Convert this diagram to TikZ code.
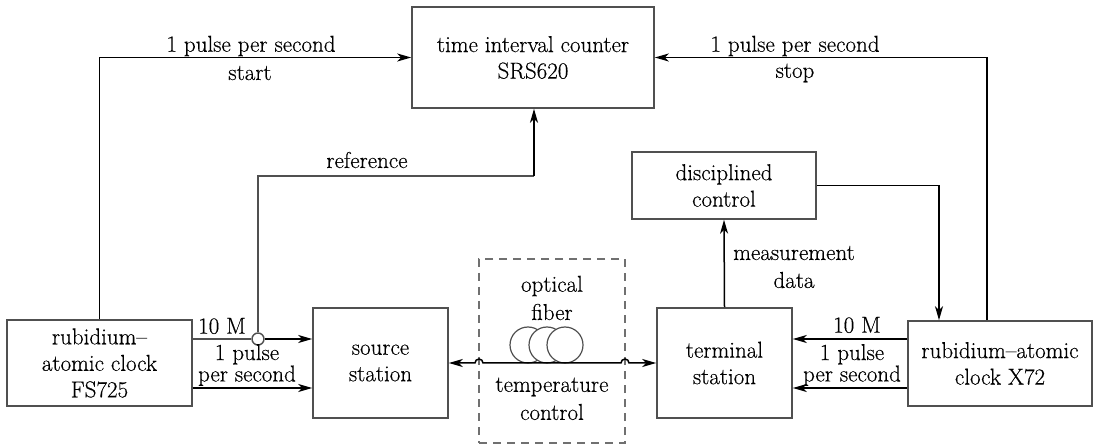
\documentclass[tikz,border=0pt]{standalone}
\usepackage{fontspec}
\setmainfont{Latin Modern Roman}[FakeBold=0.35]
\usetikzlibrary{arrows.meta}
\definecolor{boxgray}{HTML}{505050}
\definecolor{dashgray}{HTML}{707070}
\newcommand\mainsz{\fontsize{23}{26.5}\selectfont}
\newcommand\tightsz{\fontsize{23}{18.5}\selectfont}
\begin{document}
\begin{tikzpicture}[x=1pt,y=-1pt,
  box/.style={draw=boxgray, line width=1.6pt, fill=white, inner sep=0pt, align=center, font=\mainsz},
  lbl/.style={inner sep=0pt, font=\mainsz},
  twolbl/.style={inner sep=0pt, align=center, font=\tightsz},
  conn/.style={line width=1.5pt, draw=black},
  tip/.style={-{Stealth[length=14pt,width=8pt,inset=4pt]}},
  arr/.style={conn, tip},
  coil/.style={draw=boxgray, line width=1.2pt, fill=white},
]
\useasboundingbox[fill=white] (0,0) rectangle (1098,446);

% blocks
\node[box, minimum width=242pt, minimum height=101pt] (tic) at (533,57.5) {time interval counter\\SRS620};
\node[box, minimum width=185pt, minimum height=86pt] (lclock) at (99.5,363) {rubidium--\\atomic clock\\FS725};
\node[box, minimum width=135pt, minimum height=110pt] (src) at (380.5,363) {source\\station};
\node[box, minimum width=135pt, minimum height=110pt] (term) at (724.5,363) {terminal\\station};
\node[box, minimum width=184pt, minimum height=85pt] (rclock) at (1000,363.5) {rubidium--atomic\\clock X72};
\node[box, minimum width=184pt, minimum height=67pt] (disc) at (724,185.5) {disciplined\\control};

% temperature-controlled enclosure with the fiber spool
\node[draw=dashgray, line width=1.6pt, dash pattern=on 8pt off 6pt, minimum width=146pt, minimum height=184pt, inner sep=0pt] (tc) at (552,351) {};
\foreach \cx in {528,547,565} \draw[coil] (\cx,345) circle (18);
\node[lbl] at (552,286) {optical};
\node[lbl] at (552,312) {fiber};
\node[lbl] at (552,387) {temperature};
\node[lbl] at (552,412) {control};

% fiber link, hopping over the enclosure walls
\coordinate (h1) at (475,363);
\coordinate (h2) at (621,363);
\draw[conn, {Stealth[length=14pt,width=8pt,inset=4pt]}-{Stealth[length=14pt,width=8pt,inset=4pt]}]
  (src.east) -- (h1) arc (180:360:4) -- (h2) arc (180:360:4) -- (term.west);

% start / stop pulses
\draw[arr] (lclock.north) |- (tic.west);
\node[lbl] at (251,46) {1 pulse per second};
\node[lbl] at (250,73) {start};
\draw[arr] ([xshift=-13pt]rclock.north) |- (tic.east);
\node[lbl] at (795,46) {1 pulse per second};
\node[lbl] at (795,73) {stop};

% FS725 outputs
\node[circle, draw=boxgray, line width=1.4pt, fill=white, minimum size=12pt, inner sep=0pt] (j) at (258,339) {};
\draw[conn, draw=boxgray] (lclock.east |- j) -- (j.west);
\draw[arr] (j.east) -- (src.west |- j);
\coordinate (rc) at (534,176);
\draw[conn, draw=boxgray] (j.north) |- (rc);
\draw[arr] (rc) -- (tic.south -| rc);
\node[lbl] at (367,160) {reference};
\node[lbl] at (222,326) {10 M};
\draw[arr] (lclock.east |- 0,388) -- (src.west |- 0,388);
\node[twolbl] at (247,365) {1 pulse\\per second};

% X72 outputs
\draw[arr] (rclock.west |- 0,339) -- (term.east |- 0,339);
\node[lbl] at (857,325) {10 M};
\draw[arr] (rclock.west |- 0,388) -- (term.east |- 0,388);
\node[twolbl] at (852,365) {1 pulse\\per second};

% steering loop
\draw[arr] (term.north) -- (disc.south);
\node[lbl] at (794,253) {measurement};
\node[lbl] at (794,280) {data};
\draw[arr] (disc.east) -| (rclock.north -| 939,0);
\end{tikzpicture}
\end{document}
